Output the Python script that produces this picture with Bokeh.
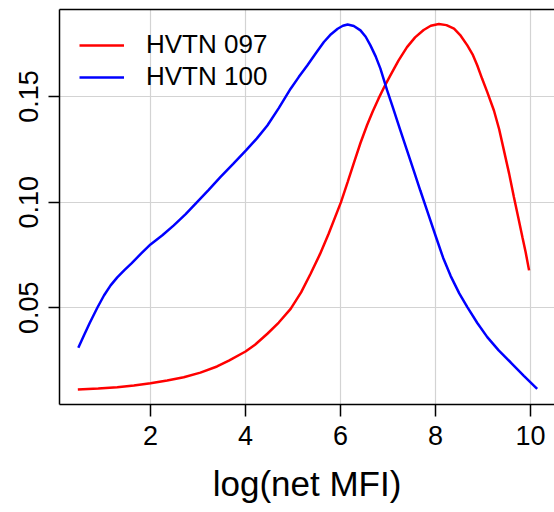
from bokeh.plotting import figure
from bokeh.models import Range1d, FixedTicker, LinearAxis, Legend, LegendItem
from bokeh.embed import file_html
from bokeh.resources import INLINE

# ---- data ----
series_names = ["HVTN 097", "HVTN 100"]

hvtn097_x = [0.47, 0.90, 1.30, 1.65, 2.00, 2.35, 2.70, 3.05, 3.40, 3.65, 4.00,
             4.20, 4.46, 4.70, 4.95, 5.17, 5.37, 5.57, 5.75, 6.01, 6.15, 6.28,
             6.42, 6.56, 6.68, 6.80, 6.92, 7.05, 7.22, 7.40, 7.57, 7.75, 7.90,
             8.07, 8.23, 8.39, 8.53, 8.67, 8.78, 8.88, 8.98, 9.09, 9.23, 9.34,
             9.44, 9.55, 9.65, 9.74, 9.83, 9.90, 9.97]
hvtn097_y = [0.0113, 0.0118, 0.0124, 0.0132, 0.0143, 0.0156, 0.0171, 0.0193,
             0.0222, 0.0250, 0.0293, 0.0325, 0.0377, 0.0430, 0.0495, 0.0573,
             0.0661, 0.0755, 0.0850, 0.1000, 0.1095, 0.1185, 0.1280, 0.1365,
             0.1430, 0.1490, 0.1545, 0.1600, 0.1670, 0.1734, 0.1780, 0.1815,
             0.1835, 0.1843, 0.1838, 0.1821, 0.1788, 0.1742, 0.1700, 0.1647,
             0.1585, 0.1521, 0.1434, 0.1345, 0.1245, 0.1135, 0.1024, 0.0930,
             0.0834, 0.0760, 0.0677]

hvtn100_x = [0.48, 0.60, 0.72, 0.88, 1.02, 1.16, 1.30, 1.45, 1.60, 1.80, 2.00,
             2.25, 2.49, 2.74, 2.98, 3.22, 3.47, 3.74, 4.01, 4.24, 4.46, 4.70,
             4.95, 5.12, 5.30, 5.48, 5.65, 5.80, 5.94, 6.05, 6.15, 6.28, 6.42,
             6.53, 6.63, 6.74, 6.84, 6.98, 7.10, 7.26, 7.40, 7.54, 7.68, 7.83,
             8.01, 8.16, 8.32, 8.50, 8.67, 8.88, 9.09, 9.33, 9.58, 9.86, 10.14]
hvtn100_y = [0.0311, 0.0370, 0.0428, 0.0500, 0.0558, 0.0606, 0.0644, 0.0678,
             0.0710, 0.0756, 0.0800, 0.0843, 0.0890, 0.0943, 0.1000, 0.1057,
             0.1118, 0.1181, 0.1245, 0.1302, 0.1363, 0.1445, 0.1537, 0.1592,
             0.1647, 0.1705, 0.1758, 0.1795, 0.1821, 0.1835, 0.1841, 0.1834,
             0.1813, 0.1783, 0.1742, 0.1690, 0.1632, 0.1530, 0.1450, 0.1340,
             0.1245, 0.1150, 0.1055, 0.0955, 0.0835, 0.0737, 0.0650, 0.0568,
             0.0503, 0.0428, 0.0361, 0.0298, 0.0242, 0.0178, 0.0116]

x_ticks = [2, 4, 6, 8, 10]
x_tick_labels = ["2", "4", "6", "8", "10"]
y_ticks = [0.05, 0.10, 0.15]
y_tick_labels = ["0.05", "0.10", "0.15"]
x_label = "log(net MFI)"

FONT = "Liberation Sans"

p = figure(frame_width=495, frame_height=395,
           min_border_left=59, min_border_right=0,
           min_border_top=9, min_border_bottom=108,
           x_range=Range1d(0.084, 10.505), y_range=Range1d(0.0042, 0.1912),
           output_backend="svg", toolbar_location=None)

p.background_fill_color = "white"
p.border_fill_color = "white"
p.outline_line_color = None

# grid
p.xgrid.ticker = FixedTicker(ticks=x_ticks)
p.ygrid.ticker = FixedTicker(ticks=y_ticks)
for g in (p.xgrid, p.ygrid):
    g.grid_line_color = "#D3D3D3"
    g.grid_line_width = 1.2

# axes
for ax in (p.xaxis, p.yaxis):
    ax.axis_line_color = "black"
    ax.axis_line_width = 1.5
    ax.major_tick_line_color = "black"
    ax.major_tick_line_width = 1.5
    ax.major_tick_in = 0
    ax.minor_tick_in = 0
    ax.minor_tick_out = 0
    ax.major_label_text_font = FONT
    ax.major_label_text_font_size = "27px"
    ax.major_label_text_color = "black"

p.xaxis.ticker = FixedTicker(ticks=x_ticks)
p.xaxis.major_label_overrides = {t: l for t, l in zip(x_ticks, x_tick_labels)}
p.xaxis.major_tick_out = 12
p.xaxis.major_label_standoff = 9
p.xaxis.axis_label = x_label
p.xaxis.axis_label_text_font = FONT
p.xaxis.axis_label_text_font_size = "35px"
p.xaxis.axis_label_text_font_style = "normal"
p.xaxis.axis_label_text_color = "black"
p.xaxis.axis_label_standoff = 16

p.yaxis.ticker = FixedTicker(ticks=y_ticks)
p.yaxis.major_label_overrides = {t: l for t, l in zip(y_ticks, y_tick_labels)}
p.yaxis.major_tick_out = 11
p.yaxis.major_label_standoff = 10
p.yaxis.major_label_orientation = "vertical"

# top border line of the box
top = LinearAxis(ticker=FixedTicker(ticks=[]), major_tick_out=0, major_tick_in=0,
                 minor_tick_out=0, minor_tick_in=0, major_label_standoff=0,
                 major_label_text_font_size="0px",
                 axis_line_color="black", axis_line_width=1.5)
p.add_layout(top, "above")

# curves
r1 = p.line(hvtn097_x, hvtn097_y, line_color="#FF0000", line_width=2.5)
r2 = p.line(hvtn100_x, hvtn100_y, line_color="#0000FF", line_width=2.5)

legend = Legend(items=[LegendItem(label=series_names[0], renderers=[r1]),
                       LegendItem(label=series_names[1], renderers=[r2])],
                location="top_left", margin=20, padding=0, spacing=1,
                glyph_width=45, glyph_height=26, label_height=26,
                label_standoff=22, label_text_font=FONT,
                label_text_font_size="26px", label_text_color="black",
                background_fill_alpha=0, border_line_color=None)
p.add_layout(legend)

open("out.html", "w").write(file_html(p, INLINE))
